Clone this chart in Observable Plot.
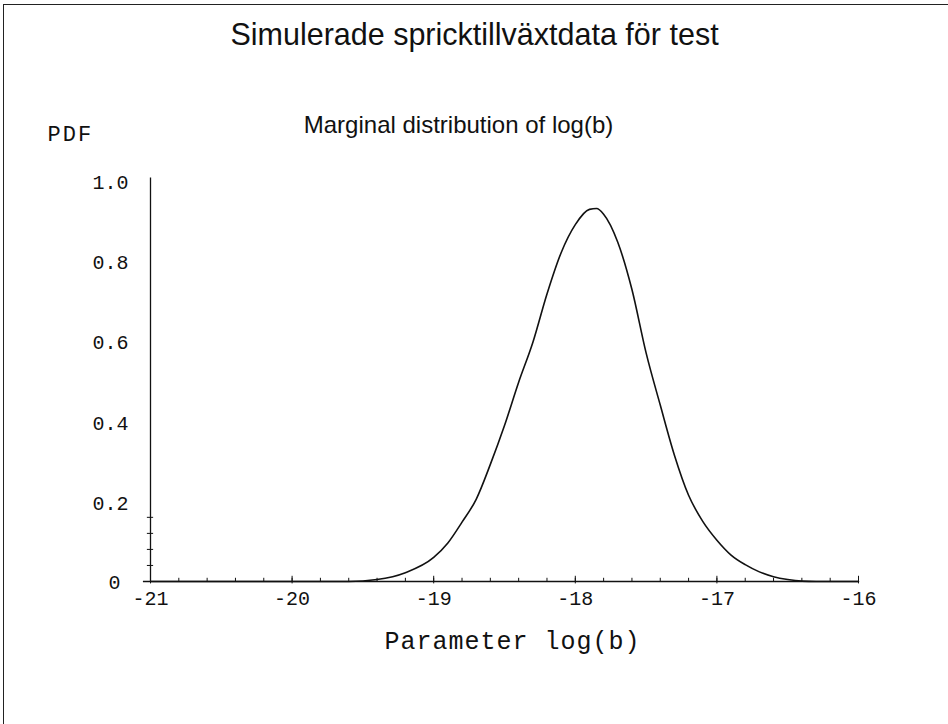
<!DOCTYPE html>
<html>
<head>
<meta charset="utf-8">
<script src="https://cdn.jsdelivr.net/npm/d3@7"></script>
<script src="https://cdn.jsdelivr.net/npm/@observablehq/plot@0.6"></script>
<style>
  html, body { margin: 0; padding: 0; background: #fff; }
  #wrap { position: relative; width: 948px; height: 724px; overflow: hidden; }
  #frame { position: absolute; left: 3px; top: 4px; width: 960px; height: 740px;
           border-left: 1.5px solid #222; border-top: 1.5px solid #222; pointer-events: none; }
</style>
</head>
<body>
<div id="wrap"><div id="frame"></div></div>
<script>
// Data
const logB = [-21, -20, -19.6, -19.4, -19.2, -19.0, -18.9, -18.8, -18.7, -18.6, -18.5, -18.4, -18.3, -18.2, -18.1, -18.0, -17.9, -17.85, -17.8, -17.7, -17.6, -17.5, -17.4, -17.3, -17.2, -17.1, -17.0, -16.9, -16.8, -16.7, -16.6, -16.5, -16.4, -16.3, -16.0];
const pdf  = [0, 0, 0, 0.005, 0.022, 0.06, 0.096, 0.148, 0.205, 0.292, 0.389, 0.497, 0.596, 0.717, 0.82, 0.89, 0.928, 0.93, 0.916, 0.846, 0.728, 0.57, 0.44, 0.315, 0.215, 0.15, 0.103, 0.066, 0.042, 0.024, 0.012, 0.005, 0.001, 0, 0];

const xTicks = [-21, -20, -19, -18, -17, -16];
const xTickLabels = ["-21", "-20", "-19", "-18", "-17", "-16"];
const yTicks = [0.2, 0.4, 0.6, 0.8, 1.0];
const yTickLabels = ["0.2", "0.4", "0.6", "0.8", "1.0"];
const yZeroLabel = "0";
const xMinor = d3.range(-21, -16.0001, 0.2).map(v => Math.round(v * 10) / 10);
const yMinor = [0.04, 0.08, 0.12, 0.16];

const title = "Simulerade spricktillväxtdata för test";
const subtitle = "Marginal distribution of log(b)";
const yLabel = "PDF";
const xLabel = "Parameter log(b)";

const data = logB.map((x, i) => ({x, y: pdf[i]}));
const mono = "'Liberation Mono', 'DejaVu Sans Mono', monospace";
const sans = "'Liberation Sans', Arial, Helvetica, sans-serif";

const chart = Plot.plot({
  width: 948,
  height: 724,
  marginLeft: 150,
  marginRight: 90,
  marginTop: 180,
  marginBottom: 143,
  x: {domain: [-21, -16], axis: null},
  y: {domain: [0, 1], axis: null},
  style: {background: "transparent", color: "#111"},
  marks: [
    // axes lines
    Plot.ruleY([0], {x1: -21.05, x2: -16, stroke: "#111", strokeWidth: 1.3}),
    Plot.ruleX([-21], {y1: 0, y2: 1.006, stroke: "#111", strokeWidth: 1.3}),
    // x ticks
    Plot.ruleX(xMinor, {y1: 0, y2: 0.008, stroke: "#111", strokeWidth: 1}),
    Plot.ruleX(xTicks, {y1: -0.006, y2: 0.013, stroke: "#111", strokeWidth: 1}),
    // y minor ticks
    Plot.ruleY(yMinor, {x1: -21.022, x2: -20.978, stroke: "#111", strokeWidth: 1}),
    // tick labels
    Plot.text(xTicks, {x: d => d, y: 0, dy: 17, text: (d, i) => xTickLabels[i],
      fontFamily: mono, fontSize: 20, fill: "#111"}),
    Plot.text(yTicks, {x: -21, y: d => d, dx: -22, dy: 2, text: (d, i) => yTickLabels[i],
      textAnchor: "end", fontFamily: mono, fontSize: 20, fill: "#111"}),
    Plot.text([0], {x: -21, y: d => d, dx: -30, dy: 1, text: () => yZeroLabel,
      textAnchor: "end", fontFamily: mono, fontSize: 20, fill: "#111"}),
    // the curve
    Plot.line(data, {x: "x", y: "y", stroke: "#111", strokeWidth: 1.6, curve: "monotone-x"}),
    // titles and labels
    Plot.text([title], {frameAnchor: "top", dx: -30, dy: -145, text: d => d,
      fontFamily: sans, fontSize: 30.5, fill: "#111", lineAnchor: "middle"}),
    Plot.text([subtitle], {frameAnchor: "top", dx: -46, dy: -55, text: d => d,
      fontFamily: sans, fontSize: 24, fill: "#111", lineAnchor: "middle"}),
    Plot.text([yLabel], {frameAnchor: "top-left", dx: -103, dy: -47, text: d => d,
      textAnchor: "start", fontFamily: mono, fontSize: 22, fill: "#111", lineAnchor: "middle"}),
    Plot.text([xLabel], {frameAnchor: "bottom", dx: 8, dy: 59, text: d => d,
      fontFamily: mono, fontSize: 25, fill: "#111", lineAnchor: "middle"})
  ]
});
d3.select(chart).selectAll("text").each(function () {
  const t = d3.select(this);
  if (t.text() === yLabel) t.style("letter-spacing", "2px");
  if (t.text() === xLabel) t.style("letter-spacing", "1px");
});
document.getElementById("wrap").prepend(chart);
</script>
</body>
</html>
